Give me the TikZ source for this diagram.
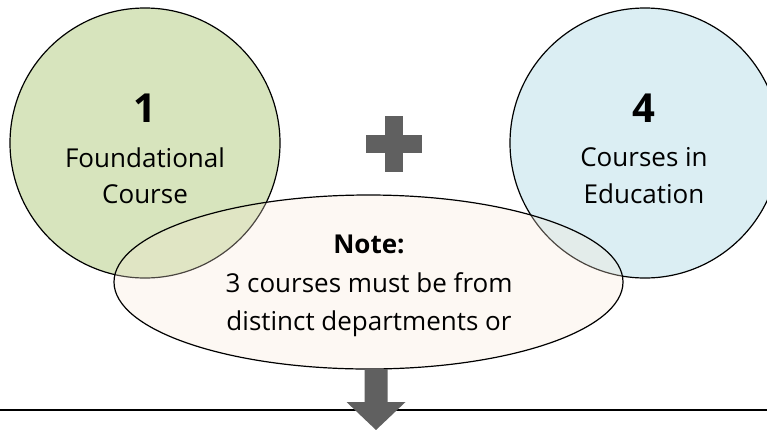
\documentclass[tikz,border=0pt]{standalone}
\usepackage{fontspec}
\setmainfont{Open Sans}
\usetikzlibrary{shapes.geometric,calc}
\definecolor{foundgreen}{HTML}{D7E4BD}
\definecolor{edublue}{HTML}{DBEEF3}
\definecolor{notetan}{HTML}{F8E8D7}
\definecolor{signgray}{HTML}{606060}

\begin{document}
\begin{tikzpicture}[x=1pt,y=-1pt,
	bubble/.style={circle,draw,line width=1.2pt,minimum size=270pt,inner sep=0pt},
	bignum/.style={anchor=base,font=\fontsize{40}{48}\selectfont\bfseries},
	bodytxt/.style={anchor=base,font=\fontsize{26}{31}\selectfont},
	notehead/.style={anchor=base,font=\fontsize{26}{31}\selectfont\bfseries}]

	\useasboundingbox (0,0) rectangle (767,429);
	\clip (0,0) rectangle (767,429);

	% draw circles

	\node[bubble,fill=foundgreen] (found) at (145,143) {};
	\node[bubble,fill=edublue] (edu) at (645,143) {};

	\node[bignum] (one) at (145,122) {1};
	\node[bodytxt] (foundA) at (145,167) {Foundational};
	\node[bodytxt] (foundB) at (145,203) {Course};

	\node[bignum] (four) at (644,122) {4};
	\node[bodytxt] (eduA) at (644,166) {Courses in};
	\node[bodytxt] (eduB) at (644,203) {Education};

	% the note

	\node[ellipse,draw,line width=1.2pt,fill=notetan,fill opacity=0.3,draw opacity=1,
		minimum width=509pt,minimum height=174pt] (note) at (368.5,282) {};
	\node[notehead] (noteA) at (369,253) {Note:};
	\node[bodytxt] (noteB) at (369,292) {3 courses must be from};
	\node[bodytxt] (noteC) at (369,330) {distinct departments or};

	% plus sign

	\coordinate (plus) at (394,144);
	\fill[signgray] ($(plus)+(-9,-28)$) rectangle ($(plus)+(9,28)$);
	\fill[signgray] ($(plus)+(-28,-9)$) rectangle ($(plus)+(28,9)$);

	% rule and arrow

	\coordinate (rulel) at (0,410);
	\coordinate (ruler) at (767,410);
	\draw[line width=1.2pt] (rulel) -- (ruler);

	\coordinate (arr) at (376,369);
	\fill[signgray] (arr) ++(-11.5,0) -- ++(23,0) -- ++(0,33) -- ++(18,0)
		-- ++(-29.5,28) -- ++(-29.5,-28) -- ++(18,0) -- cycle;

\end{tikzpicture}
\end{document}
